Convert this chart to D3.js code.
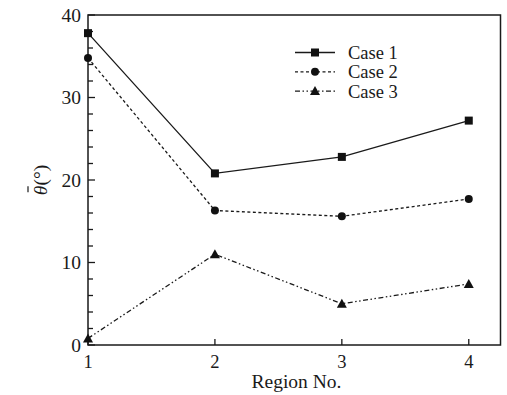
<!DOCTYPE html>
<html><head><meta charset="utf-8">
<script src="https://cdn.jsdelivr.net/npm/d3@7"></script>
<style>body{margin:0;background:#fff}svg{display:block}</style>
</head><body>
<svg id="c" width="507" height="395"></svg>
<script>
const regions = [1, 2, 3, 4];
const case1 = [37.8, 20.8, 22.8, 27.2];
const case2 = [34.8, 16.3, 15.6, 17.7];
const case3 = [0.8, 11.0, 5.0, 7.4];
const yTicks = [0, 10, 20, 30, 40];
const seriesNames = ["Case 1", "Case 2", "Case 3"];

const svg = d3.select("#c");
const L = 88, R = 500.5, T = 15, B = 345;
const x = d3.scaleLinear().domain([1, 4.25]).range([L, R]);
const y = d3.scaleLinear().domain([0, 40]).range([B, T]);
const font = "'Liberation Serif', 'Times New Roman', serif";
const ink = "#1a1a1a";

const series = [
  {name: seriesNames[0], vals: case1, dash: null, shape: "square"},
  {name: seriesNames[1], vals: case2, dash: "3,2.5", shape: "circle"},
  {name: seriesNames[2], vals: case3, dash: "5,2.5,1.5,2.5,1.5,2.5", shape: "triangle"}
];

// frame
svg.append("rect").attr("x", L).attr("y", T).attr("width", R - L).attr("height", B - T)
  .attr("fill", "none").attr("stroke", ink).attr("stroke-width", 1.5);

// y axis ticks (inside)
const minor = y.ticks(16);
const yg = svg.append("g").attr("transform", `translate(${L},0)`);
yg.selectAll("line").data(minor).enter().append("line")
  .attr("x1", 0).attr("x2", d => d % 10 === 0 ? 7 : 5)
  .attr("y1", d => y(d)).attr("y2", d => y(d)).attr("stroke", ink).attr("stroke-width", 1.3);
yg.selectAll("text").data(yTicks).enter().append("text")
  .attr("x", -7).attr("y", d => y(d)).attr("dy", "0.34em").attr("text-anchor", "end")
  .attr("font-family", font).attr("font-size", 19.5).attr("fill", ink).text(d => d);

// x axis ticks (inside)
const xg = svg.append("g");
xg.selectAll("line").data(regions).enter().append("line")
  .attr("x1", d => x(d)).attr("x2", d => x(d)).attr("y1", B).attr("y2", B - 6)
  .attr("stroke", ink).attr("stroke-width", 1.3);
xg.selectAll("text").data(regions).enter().append("text")
  .attr("x", d => x(d)).attr("y", 368).attr("text-anchor", "middle")
  .attr("font-family", font).attr("font-size", 18.5).attr("fill", ink).text(d => d);

// axis labels
svg.append("text").attr("x", 296.5).attr("y", 388).attr("text-anchor", "middle")
  .attr("font-family", font).attr("font-size", 19.5).attr("fill", ink).text("Region No.");
const ylg = svg.append("g").attr("transform", "translate(47,180) rotate(-90)");
const yl = ylg.append("text").attr("text-anchor", "middle")
  .attr("font-family", font).attr("font-size", 19.5).attr("fill", ink);
const th = yl.append("tspan").attr("font-style", "italic").text("\u03B8");
yl.append("tspan").text("(\u00B0)");
const bb = th.node().getBBox();
ylg.append("line").attr("x1", bb.x + 3).attr("x2", bb.x + bb.width - 1)
  .attr("y1", -19).attr("y2", -19).attr("stroke", ink).attr("stroke-width", 1.2);

function marker(g, shape, cx, cy) {
  if (shape === "square") g.append("rect").attr("x", cx - 4).attr("y", cy - 4).attr("width", 8).attr("height", 8).attr("fill", "#111");
  else if (shape === "circle") g.append("circle").attr("cx", cx).attr("cy", cy).attr("r", 4).attr("fill", "#111");
  else g.append("path").attr("d", `M${cx},${cy - 5}L${cx + 5},${cy + 4}L${cx - 5},${cy + 4}Z`).attr("fill", "#111");
}

const line = d3.line().x((d, i) => x(regions[i])).y(d => y(d));
series.forEach(s => {
  const g = svg.append("g");
  g.append("path").attr("d", line(s.vals)).attr("fill", "none").attr("stroke", ink)
    .attr("stroke-width", 1.3).attr("stroke-dasharray", s.dash);
  s.vals.forEach((v, i) => marker(g, s.shape, x(regions[i]), y(v)));
});

// legend
const lg = svg.append("g");
series.forEach((s, i) => {
  const ly = 52.5 + i * 19.3;
  lg.append("line").attr("x1", 295).attr("x2", 335).attr("y1", ly).attr("y2", ly)
    .attr("stroke", ink).attr("stroke-width", 1.3).attr("stroke-dasharray", s.dash);
  marker(lg, s.shape, 315, ly);
  lg.append("text").attr("x", 348).attr("y", ly).attr("dy", "0.35em")
    .attr("font-family", font).attr("font-size", 18.5).attr("fill", ink).text(s.name);
});
</script>
</body></html>
